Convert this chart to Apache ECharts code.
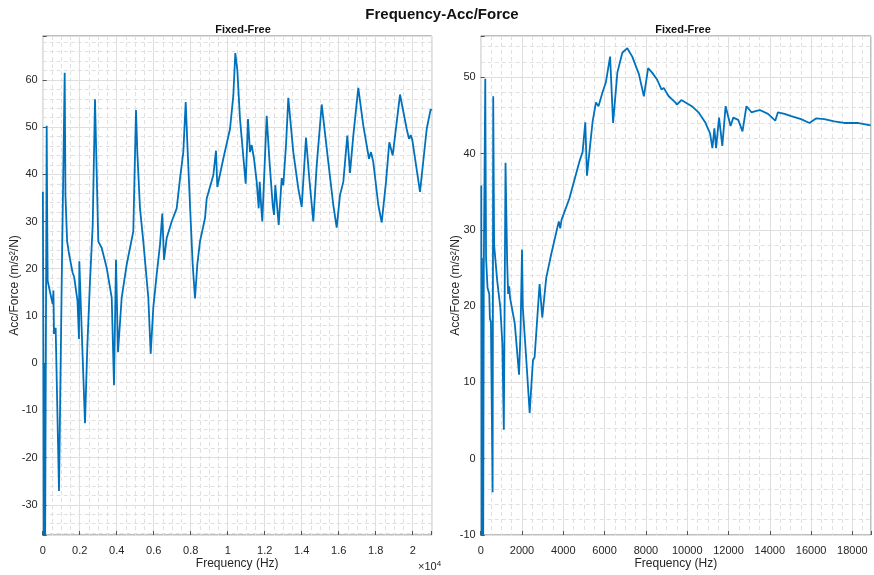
<!DOCTYPE html>
<html><head><meta charset="utf-8">
<script src="https://cdn.jsdelivr.net/npm/echarts@6/dist/echarts.min.js"></script>
<style>html,body{margin:0;padding:0;background:#fff}#c{width:874px;height:575px}</style>
</head><body><div id="c"></div>
<script>
// ---- data ----
const leftFreq = [10,35,60,95,125,216,245,270,400,540,580,610,700,881,1043,1189,1230,1320,1430,1620,1700,1880,1962,1980,2040,2286,2411,2557,2703,2827,3005,3189,3459,3730,3854,3962,4070,4270,4541,4897,5043,5114,5259,5438,5708,5838,5978,6162,6341,6465,6557,6703,6973,7243,7422,7600,7730,7838,7962,8108,8232,8357,8503,8773,8865,9222,9368,9438,9762,10124,10303,10411,10519,10665,10973,11097,11205,11297,11422,11568,11676,11730,11800,11870,12108,12249,12432,12503,12573,12757,12919,13005,13151,13276,13546,13816,14000,14232,14411,14627,14811,15081,15438,15708,15892,16070,16249,16465,16611,16789,17059,17330,17638,17746,17870,18141,18324,18557,18735,18919,19314,19676,19800,19892,19978,20395,20757,20973,21027];
const leftAcc = [36.3,6.2,-45,0,-45,50.3,30,17.4,15,12.5,15.4,6.2,7.5,-27.1,21.6,61.5,35.6,25.8,23,19.1,18.3,13.2,5.1,21.6,14.6,-12.7,3.4,17.4,29.3,55.9,25.8,24.4,20.2,13.9,-4.7,21.9,2.3,13.9,20.9,27.9,53.6,44.7,32.8,25.8,13.9,2,11.8,18.8,25.1,31.7,21.9,26.5,30,32.8,39.1,44.7,55.3,44.7,33.5,20.9,13.7,20.9,25.8,30.7,34.9,39.8,45,37.3,43.3,49.6,56.6,65.7,62.2,51.7,38,51.7,44.7,46.2,43.3,38.4,32.8,38.4,33.8,30,52.4,43.3,33.5,31.4,37.7,29.3,39.2,37.7,46.1,56.2,44.7,37,33.1,47.8,39.1,30,41.9,54.8,42.6,33.5,28.7,35.6,38.4,48.2,40.3,48.2,58.3,50.3,43.3,44.7,42.6,33.5,29.8,38.4,46.8,44,56.9,49.6,47.5,48.3,47.3,36.3,49.6,53.8,53.5];
const rightFreq = [29,45,60,75,95,120,150,221,260,330,414,447,495,577,606,650,800,950,1050,1120,1202,1280,1329,1380,1420,1650,1857,1930,2001,2040,2200,2371,2530,2610,2852,2981,3173,3414,3781,3850,3914,4294,4775,4934,5064,5146,5415,5579,5704,5896,6059,6266,6411,6617,6858,7098,7339,7661,7743,7901,8108,8301,8541,8753,8863,9104,9426,9503,9715,10224,10546,10869,11109,11220,11316,11398,11542,11700,11859,12100,12230,12470,12677,12869,13110,13350,13514,13913,14264,14393,14715,15033,15514,15918,16236,16640,17120,17601,18241,18881];
const rightAcc = [35.8,-12,26.3,7.8,19,-12,25,49.8,26.3,22.4,21.6,18.3,18,-4.4,47.5,28,23.3,19.8,15,3.8,38.8,25.9,21.6,22.6,21.1,17.7,11,16.8,27.4,19.8,13.3,6,12.9,13.3,22.9,18.5,23.7,26.8,31.1,30.2,31.3,34.1,38.9,40.2,44.1,37.1,44.1,46.7,46.2,48,49.3,52.7,44,50.6,53.2,53.8,52.7,50.4,50.6,47.5,51.2,50.6,49.7,48.4,48.6,47.5,46.7,46.4,47,46.2,45.4,44.1,42.6,40.7,43.3,40.7,44.7,41,46.2,43.6,44.7,44.4,42.9,46.2,45.4,45.6,45.7,45.2,44.3,45.4,45.2,44.9,44.5,44,44.6,44.5,44.2,44,44,43.7];
const mainTitle = 'Frequency-Acc/Force';
const subTitles = ['Fixed-Free', 'Fixed-Free'];
const xName = 'Frequency (Hz)';
const yName = 'Acc/Force (m/s\u00B2/N)';
const leftXRange = [0, 21027];
const leftYRange = [-36.4, 69.3];
const rightXRange = [0, 18900];
const rightYRange = [-10, 55.4];

// ---- styling ----
const FONT = '"Liberation Sans", Arial, Helvetica, sans-serif';
const TXT = '#262626';
const MAJ = '#dcdcdc';
const MIN = '#e0e0e0';
const LINE = '#0072BD';
const isMult = (v, m) => Math.abs(v / m - Math.round(v / m)) < 1e-6;

const G = [
  {left: 42.7, top: 36, width: 389, height: 503.3},
  {left: 480.7, top: 36, width: 392.6, height: 503.3}
];

function majorX(gi, range, fmt) {
  return {
    type: 'value', gridIndex: gi, min: range[0], max: range[1], interval: 2000, position: 'bottom',
    axisLine: {show: false, onZero: false},
    axisTick: {show: true, inside: true, length: 4, lineStyle: {color: '#555'}},
    axisLabel: {margin: 10, color: TXT, fontSize: 11, fontFamily: FONT,
      formatter: v => isMult(v, 2000) ? fmt(v) : ''},
    splitLine: {show: true, lineStyle: {color: MAJ, width: 1}},
    name: xName, nameLocation: 'middle', nameGap: 23, nameMoveOverlap: false,
    nameTextStyle: {color: TXT, fontSize: 12, fontFamily: FONT}
  };
}
function minorX(gi, range) {
  return {
    type: 'value', gridIndex: gi, min: range[0], max: range[1], interval: 500, position: 'bottom',
    axisLine: {show: false, onZero: false}, axisTick: {show: false}, axisLabel: {show: false},
    splitLine: {show: true, lineStyle: {color: MIN, width: 1, type: [4, 3]}}
  };
}
function majorY(gi, range, gap) {
  return {
    type: 'value', gridIndex: gi, min: range[0], max: range[1], minInterval: 10, maxInterval: 10,
    axisLine: {show: false, onZero: false},
    axisTick: {show: true, inside: true, length: 4, lineStyle: {color: '#555'}},
    axisLabel: {margin: 5, color: TXT, fontSize: 11, fontFamily: FONT,
      formatter: v => isMult(v, 10) ? String(v) : ''},
    splitLine: {show: true, lineStyle: {color: MAJ, width: 1}},
    name: yName, nameLocation: 'middle', nameGap: gap, nameRotate: 90, nameMoveOverlap: false,
    nameTextStyle: {color: TXT, fontSize: 12, fontFamily: FONT}
  };
}
function minorY(gi, range) {
  return {
    type: 'value', gridIndex: gi, min: range[0], max: range[1], minInterval: 2, maxInterval: 2,
    axisLine: {show: false, onZero: false}, axisTick: {show: false}, axisLabel: {show: false},
    splitLine: {show: true, lineStyle: {color: MIN, width: 1, type: [4, 3]}}
  };
}

const option = {
  animation: false,
  backgroundColor: '#ffffff',
  title: [
    {text: mainTitle, left: 437, top: 2, textAlign: 'center',
      textStyle: {fontSize: 15, fontWeight: 'bold', color: '#111', fontFamily: FONT}},
    {text: subTitles[0], left: 238, top: 19, textAlign: 'center',
      textStyle: {fontSize: 11, fontWeight: 'bold', color: '#111', fontFamily: FONT}},
    {text: subTitles[1], left: 678, top: 19, textAlign: 'center',
      textStyle: {fontSize: 11, fontWeight: 'bold', color: '#111', fontFamily: FONT}},
    {text: '\u00D710{s|4}', left: 413, top: 555,
      textStyle: {fontSize: 11, color: TXT, fontFamily: FONT, fontWeight: 'normal',
        rich: {s: {fontSize: 8, verticalAlign: 'top', color: TXT, fontFamily: FONT, padding: [0, 0, 6, 0]}}}}
  ],
  grid: G.map(g => Object.assign({show: true, borderColor: '#7d7d7d', borderWidth: 1, backgroundColor: 'rgba(0,0,0,0)'}, g)),
  xAxis: [
    majorX(0, leftXRange, v => String(+(v / 1e4).toFixed(1))),
    minorX(0, leftXRange),
    majorX(1, rightXRange, v => String(v)),
    minorX(1, rightXRange)
  ],
  yAxis: [
    majorY(0, leftYRange, 22),
    minorY(0, leftYRange),
    Object.assign(majorY(1, rightYRange, 19), {interval: 10}),
    Object.assign(minorY(1, rightYRange), {interval: 2})
  ],
  series: [
    {type: 'line', xAxisIndex: 0, yAxisIndex: 0, showSymbol: false, clip: true, z: 5,
      lineStyle: {color: LINE, width: 1.8}, data: leftFreq.map((f, i) => [f, leftAcc[i]])},
    {type: 'line', xAxisIndex: 2, yAxisIndex: 2, showSymbol: false, clip: true, z: 5,
      lineStyle: {color: LINE, width: 1.8}, data: rightFreq.map((f, i) => [f, rightAcc[i]])}
  ]
};
echarts.init(document.getElementById('c'), null, {renderer: 'canvas'}).setOption(option);
</script></body></html>
